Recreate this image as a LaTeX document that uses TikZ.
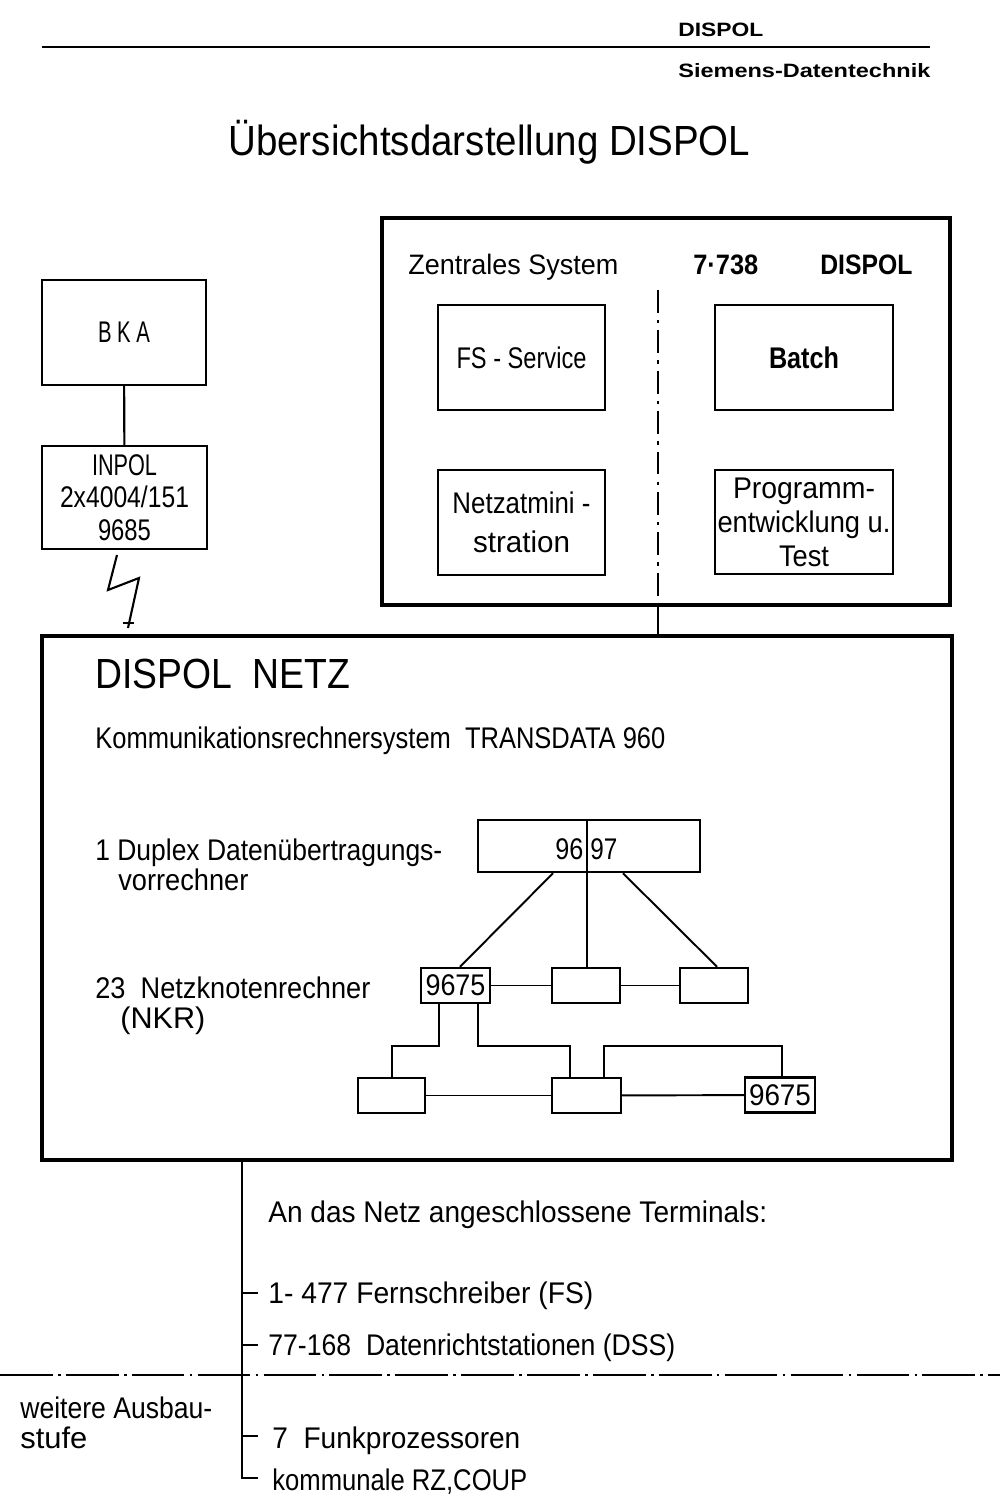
\documentclass[tikz,border=0pt]{standalone}
\usepackage{fontspec}
\setmainfont{Liberation Sans}
\newlength\pxu \setlength\pxu{0.02cm}
\newcommand\fw[2]{\resizebox{#1\pxu}{\height}{#2}}
\newcommand\bodyf{\fontsize{17}{20}\selectfont}
\begin{document}
\begin{tikzpicture}[x=0.02cm,y=-0.02cm,
  bx/.style 2 args={draw, line width=1.4pt, minimum width=#1\pxu, minimum height=#2\pxu, inner sep=0pt, font=\bodyf, align=center},
  big/.style 2 args={draw, line width=2pt, minimum width=#1\pxu, minimum height=#2\pxu, inner sep=0pt},
  txt/.style={inner sep=0pt, anchor=base west, font=\bodyf},
  net/.style={line width=1.1pt},
  lnk/.style={line width=1.2pt}]
\useasboundingbox (0,0) rectangle (1000,1512);
% header
\node[txt, font=\fontsize{11}{13}\selectfont\bfseries] (hd1) at (678,36) {\fw{85}{DISPOL}};
\coordinate (hl) at (42,47);
\coordinate (hr) at (930,47);
\draw[line width=1.1pt] (hl) -- (hr);
\node[txt, font=\fontsize{11}{13}\selectfont\bfseries] (hd2) at (678,77) {\fw{252}{Siemens-Datentechnik}};
% title
\node[txt, font=\fontsize{24}{28}\selectfont] (title) at (228,155) {\fw{522}{Übersichtsdarstellung DISPOL}};
% left boxes
\node[bx={164}{105}] (bka) at (124,332.5) {\fw{52}{B K A}};
\node[bx={165}{103}, font=\fontsize{17}{18.5}\selectfont] (inpol) at (124.5,497.5) {\fw{65}{INPOL}\\\fw{129}{2x4004/151}\\\fw{53}{9685}};
\draw[lnk] (bka) -- (inpol);
\draw[lnk] (117,555) -- (108,590) -- (139,578) -- (128,628);
\draw[line width=0.8pt] (123,623) -- (134,623);
% central system
\node[big={568}{387}] (zs) at (666,411.5) {};
\node[txt, font=\fontsize{16}{18}\selectfont] (zs1) at (408,274) {\fw{210}{Zentrales System}};
\node[txt, font=\fontsize{16}{18}\selectfont\bfseries] (zs2) at (693,274) {\fw{65}{7·738}};
\node[txt, font=\fontsize{16}{18}\selectfont\bfseries] (zs3) at (820,274) {\fw{92}{DISPOL}};
\node[bx={167}{105}] (fs) at (521.5,357.5) {\fw{130}{FS - Service}};
\node[bx={178}{105}, font=\bodyf\bfseries] (batch) at (804,357.5) {\fw{70}{Batch}};
\node[bx={167}{105}, font=\fontsize{17}{22}\selectfont] (netadm) at (521.5,522.5) {\fw{138}{Netzatmini -}\\\fw{97}{stration}};
\node[bx={178}{104}, font=\fontsize{17}{19.3}\selectfont] (prog) at (804,522) {\fw{142}{Programm-}\\\fw{173}{entwicklung u.}\\\fw{50}{Test}};
\coordinate (dtop) at (658,290);
\draw[line width=1.2pt, dash pattern=on 13pt off 4pt on 2pt off 4pt] (dtop) -- (zs.south -| dtop);
% netz box
\node[big={910}{524}] (netz) at (497,898) {};
\draw[lnk] (zs.south -| dtop) -- (netz.north -| dtop);
\node[txt, font=\fontsize{24}{28}\selectfont] (nt1) at (95,688) {\fw{255}{DISPOL\ \ NETZ}};
\node[txt] (nt2) at (95,748) {\fw{570}{Kommunikationsrechnersystem\ \ TRANSDATA 960}};
\node[txt] (nt3) at (95,860) {\fw{347}{1 Duplex Datenübertragungs-}};
\node[txt] (nt4) at (118,890) {\fw{130}{vorrechner}};
\node[txt] (nt5) at (95,998) {\fw{275}{23\ \ Netzknotenrechner}};
\node[txt] (nt6) at (120,1028) {\fw{85}{(NKR)}};
% network
\node[bx={222}{52}] (dup) at (589,846) {};
\node[txt] (d96) at (555,859) {\fw{28}{96}};
\node[txt] (d97) at (590,859) {\fw{27}{97}};
\draw[net] (dup.north -| 587,0) -- (dup.south -| 587,0);
\node[bx={69}{35}] (A) at (455.5,985.5) {\fw{60}{9675}};
\node[bx={68}{35}] (B) at (586,985.5) {};
\node[bx={68}{35}] (C) at (714,985.5) {};
\node[bx={67}{35}] (D) at (391.5,1095.5) {};
\node[bx={69}{35}] (E) at (586.5,1095.5) {};
\node[bx={70}{35}] (F) at (780,1095) {\fw{62}{9675}};
\draw[net] (dup.south -| 553,0) -- (A.north -| 460,0);
\draw[net] (dup.south -| 587,0) -- (B.north -| 587,0);
\draw[net] (dup.south -| 623,0) -- (C.north -| 717,0);
\draw[net] (A) -- (B);
\draw[net] (B) -- (C);
\draw[net] (D) -- (E);
\draw[net] (E) -- (F);
\draw[net] (A.south -| 439,0) -- (439,1046) -- (392,1046) -- (D.north -| 392,0);
\draw[net] (A.south -| 478,0) -- (478,1046) -- (570,1046) -- (E.north -| 570,0);
\draw[net] (E.north -| 604,0) -- (604,1046) -- (782,1046) -- (F.north -| 782,0);
% terminals
\coordinate (tb) at (258,1478);
\draw[lnk] (netz.south -| 242,0) -- (242,1478) -- (tb);
\coordinate (t1) at (258,1293);
\coordinate (t2) at (258,1345);
\coordinate (t3) at (258,1436);
\draw[lnk] (242,1293) -- (t1);
\draw[lnk] (242,1345) -- (t2);
\draw[lnk] (242,1436) -- (t3);
\node[txt] (tt0) at (268,1222) {\fw{499}{An das Netz angeschlossene Terminals:}};
\node[txt] (tt1) at (268,1303) {\fw{325}{1- 477 Fernschreiber (FS)}};
\node[txt] (tt2) at (268,1355) {\fw{407}{77-168\ \ Datenrichtstationen (DSS)}};
\coordinate (sl) at (0,1375);
\coordinate (sr) at (1000,1375);
\draw[line width=1.1pt, dash pattern=on 30pt off 3pt on 1.5pt off 3pt] (sl) -- (sr);
\node[txt] (ws1) at (20,1418) {\fw{192}{weitere Ausbau-}};
\node[txt] (ws2) at (20,1448) {\fw{67}{stufe}};
\node[txt] (tt3) at (272,1448) {\fw{248}{7\ \ Funkprozessoren}};
\node[txt] (tt4) at (272,1490) {\fw{255}{kommunale RZ,COUP}};
\end{tikzpicture}
\end{document}
